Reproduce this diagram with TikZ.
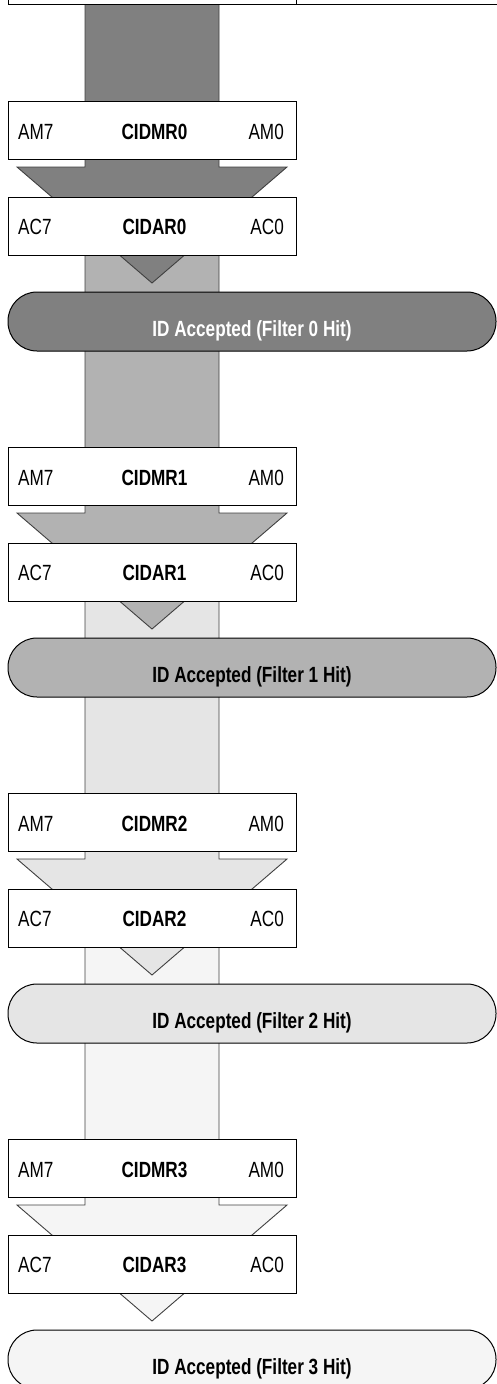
\documentclass[tikz,border=0pt]{standalone}
\usepackage{fontspec}
\setmainfont{Liberation Sans}[FakeStretch=0.78]
\begin{document}
\begin{tikzpicture}[x=1pt,y=-1pt,
  regbox/.style={draw=black, line width=1pt, fill=white, minimum width=288pt, minimum height=58pt, inner sep=0pt},
  pillbox/.style={draw=black, line width=1pt, rounded corners=29pt, minimum width=488pt, minimum height=59pt, inner sep=0pt},
  arrowshape/.style={draw=black!75, line width=0.9pt, line join=miter},
  txt/.style={inner sep=0pt, font=\fontsize{22}{24}\selectfont},
  btxt/.style={txt, font=\fontsize{22}{24}\selectfont\bfseries}]
\definecolor{fz0}{gray}{0.50}
\definecolor{fz1}{gray}{0.70}
\definecolor{fz2}{gray}{0.90}
\definecolor{fz3}{gray}{0.96}
\clip (0,0) rectangle (497,1384);
% arrows (bar + head), drawn from last to first so earlier heads lie on later bars
\foreach \i/\c in {3/fz3,2/fz2,1/fz1,0/fz0}{
  \pgfmathsetmacro{\o}{346*\i}
  \pgfmathsetmacro{\t}{346*\i-91}
  \draw[arrowshape, fill=\c] (85,\t) -- (85,167+\o) -- (17,167+\o) -- (152,283+\o)
     -- (287,167+\o) -- (219,167+\o) -- (219,\t) -- cycle;
}
% top boxes (cut off)
\node[regbox, anchor=south west, minimum width=288pt, minimum height=40pt] (topL) at (8,5) {};
\node[regbox, anchor=south west, minimum width=220pt, minimum height=40pt] (topR) at (296,5) {};
% registers and results
\foreach \i/\c/\tc in {0/fz0/white,1/fz1/black,2/fz2/black,3/fz3/black}{
  \pgfmathsetmacro{\o}{346*\i}
  \node[regbox] (mr\i) at (152,130+\o) {};
  \node[txt, anchor=base west] (am7l\i) at (18,139+\o) {AM7};
  \node[txt, anchor=base east] (am0l\i) at (284,139+\o) {AM0};
  \node[btxt, anchor=base] (mrl\i) at (154.5,139+\o) {CIDMR\i};
  \node[regbox] (ar\i) at (152,226+\o) {};
  \node[txt, anchor=base west] (ac7l\i) at (18,234.5+\o) {AC7};
  \node[txt, anchor=base east] (ac0l\i) at (284,234.5+\o) {AC0};
  \node[btxt, anchor=base] (arl\i) at (154.5,234.5+\o) {CIDAR\i};
  \node[pillbox, fill=\c] (pill\i) at (252,321.5+\o) {};
  \node[btxt, anchor=base, text=\tc] (pilll\i) at (252,336.5+\o) {ID Accepted (Filter \i\ Hit)};
}
\end{tikzpicture}
\end{document}
